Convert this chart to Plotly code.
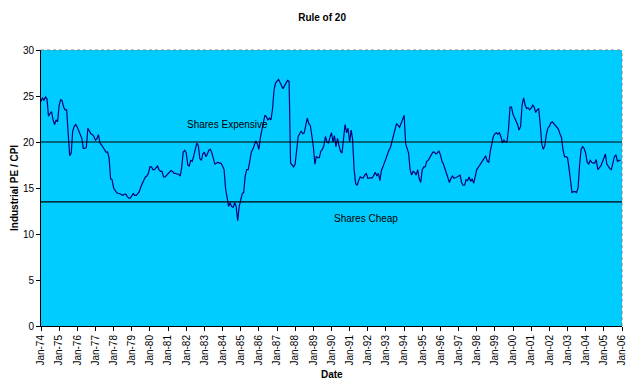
import plotly.graph_objects as go
import pandas as pd

# Monthly Industrial PE / CPI, Jan-1974 .. Dec-2005
y1974 = [24.4, 24.8, 24.5, 24.9, 24.7, 22.8, 23.1, 23.3, 22.4, 21.9, 22.4, 22.2]
y1975 = [24.0, 24.6, 24.5, 23.8, 23.5, 23.5, 21.0, 18.5, 18.8, 21.2, 21.7, 21.9]
y1976 = [21.6, 21.2, 20.8, 20.4, 19.3, 19.3, 19.4, 21.5, 21.2, 20.9, 20.8, 20.6]
y1977 = [20.2, 20.4, 20.8, 19.9, 19.7, 19.4, 19.1, 18.9, 18.9, 18.3, 16.0, 15.9]
y1978 = [15.0, 14.7, 14.5, 14.4, 14.4, 14.3, 14.2, 14.3, 14.35, 14.1, 13.9, 13.9]
y1979 = [14.1, 14.4, 14.2, 14.2, 14.4, 14.6, 15.1, 15.5, 15.9, 16.2, 16.3, 16.6]
y1980 = [17.3, 17.3, 17.0, 17.0, 17.2, 17.4, 17.0, 16.8, 16.8, 16.2, 16.2, 16.4]
y1981 = [16.5, 16.7, 16.9, 16.8, 16.6, 16.6, 16.5, 16.5, 16.3, 17.2, 18.9, 19.1]
y1982 = [18.8, 17.5, 17.4, 18.0, 17.9, 18.5, 19.2, 19.9, 19.6, 18.2, 18.0, 18.7]
y1983 = [18.9, 18.4, 18.7, 19.1, 19.2, 18.8, 18.2, 17.6, 17.7, 17.8, 17.7, 17.7]
y1984 = [17.4, 17.0, 15.0, 13.8, 13.0, 13.4, 13.0, 12.9, 13.4, 13.0, 11.45, 13.0]
y1985 = [13.8, 14.4, 14.5, 16.3, 17.0, 17.0, 17.9, 18.9, 19.2, 19.6, 20.1, 19.8]
y1986 = [19.2, 20.5, 21.4, 22.3, 22.9, 22.75, 22.4, 22.6, 22.4, 23.5, 25.6, 26.4]
y1987 = [26.6, 26.8, 26.5, 26.2, 25.8, 26.1, 26.4, 26.7, 26.6, 17.7, 17.5, 17.3]
y1988 = [17.6, 19.0, 20.6, 20.9, 21.2, 20.9, 21.0, 21.8, 22.6, 22.0, 21.8, 20.7]
y1989 = [19.5, 17.6, 18.4, 18.3, 18.3, 19.0, 19.2, 19.6, 20.6, 20.0, 19.9, 20.5]
y1990 = [21.0, 20.0, 20.7, 19.5, 20.4, 19.6, 19.0, 18.8, 20.3, 21.9, 21.0, 21.5]
y1991 = [20.0, 21.3, 20.3, 17.0, 15.5, 15.3, 15.8, 16.2, 16.1, 16.1, 16.4, 16.6]
y1992 = [16.05, 16.1, 16.1, 16.1, 16.4, 16.7, 16.3, 16.6, 15.8, 16.9, 17.3, 17.8]
y1993 = [18.2, 18.8, 19.1, 19.4, 20.1, 20.9, 21.5, 22.0, 21.8, 21.6, 22.0, 22.5]
y1994 = [22.9, 19.8, 19.2, 18.8, 17.0, 16.4, 16.8, 16.7, 16.4, 17.0, 16.0, 15.6]
y1995 = [17.0, 17.3, 17.3, 17.9, 18.0, 18.3, 18.6, 18.9, 18.9, 18.7, 18.8, 19.05]
y1996 = [18.6, 17.9, 17.6, 17.1, 16.5, 16.25, 15.6, 16.05, 16.3, 16.05, 16.1, 16.2]
y1997 = [16.3, 16.4, 15.6, 15.3, 15.3, 15.9, 15.8, 16.2, 15.7, 16.0, 15.5, 16.2]
y1998 = [17.0, 17.25, 17.5, 17.75, 18.0, 18.2, 18.5, 17.9, 17.8, 19.0, 19.9, 20.6]
y1999 = [20.9, 21.0, 20.85, 21.0, 20.6, 19.9, 20.2, 20.0, 20.0, 21.3, 23.8, 23.8]
y2000 = [23.0, 22.6, 22.4, 21.9, 21.3, 21.7, 24.0, 24.8, 24.0, 23.65, 23.7, 23.5]
y2001 = [23.7, 24.0, 23.8, 23.2, 23.5, 23.6, 21.9, 19.8, 19.2, 19.6, 20.8, 21.5]
y2002 = [21.7, 22.1, 22.2, 22.0, 21.7, 21.5, 21.4, 20.9, 20.5, 19.2, 18.4, 18.4]
y2003 = [18.3, 17.1, 15.5, 14.5, 14.6, 14.6, 14.5, 15.0, 17.5, 19.2, 19.5, 19.3]
y2004 = [18.8, 17.8, 17.6, 18.0, 17.8, 17.7, 17.7, 18.1, 17.0, 17.2, 17.4, 17.8]
y2005 = [18.3, 18.7, 17.6, 17.3, 17.1, 17.0, 17.6, 18.4, 18.6, 17.9, 18.0, 18.0]

years = list(range(1974, 2006))
yearly = [y1974, y1975, y1976, y1977, y1978, y1979, y1980, y1981, y1982, y1983,
          y1984, y1985, y1986, y1987, y1988, y1989, y1990, y1991, y1992, y1993,
          y1994, y1995, y1996, y1997, y1998, y1999, y2000, y2001, y2002, y2003,
          y2004, y2005]

expensive_level = 20
cheap_level = 13.5

dates = []
values = []
for yr, vals in zip(years, yearly):
    for mi, v in enumerate(vals):
        dates.append(pd.Timestamp(year=yr, month=mi + 1, day=1))
        values.append(v)

font_family = "Liberation Sans, Arial, sans-serif"

fig = go.Figure()
fig.add_trace(go.Scatter(x=dates, y=values, mode="lines",
                         line=dict(color="#000080", width=1.2),
                         showlegend=False, hoverinfo="skip"))

x0 = "1974-01-01"
x1 = "2006-01-01"
for lvl in (expensive_level, cheap_level):
    fig.add_shape(type="line", xref="paper", x0=0, x1=1, yref="y", y0=lvl, y1=lvl,
                  line=dict(color="black", width=1.2))

# plot-area border (top/right grey)
fig.add_shape(type="line", xref="paper", yref="paper", x0=0, x1=1, y0=1, y1=1,
              line=dict(color="#808080", width=1, dash="dot"))
fig.add_shape(type="line", xref="paper", yref="paper", x0=1, x1=1, y0=0, y1=1,
              line=dict(color="#808080", width=1, dash="dot"))

fig.add_annotation(x="1984-04-01", y=21.85, text="Shares Expensive", showarrow=False,
                   font=dict(family=font_family, size=10, color="black"))
fig.add_annotation(x="1991-12-01", y=11.7, text="Shares Cheap", showarrow=False,
                   font=dict(family=font_family, size=10, color="black"))

# axis titles
fig.add_annotation(xref="paper", yref="paper", x=0, y=0.5, xshift=-27,
                   xanchor="center", yanchor="middle",
                   text="<b>Industrial PE / CPI</b>", textangle=-90, showarrow=False,
                   font=dict(family=font_family, size=10, color="black"))
fig.add_annotation(xref="paper", yref="paper", x=0.5, y=0, yshift=-48,
                   xanchor="center", yanchor="middle",
                   text="<b>Date</b>", showarrow=False,
                   font=dict(family=font_family, size=10, color="black"))

fig.update_layout(
    width=634, height=387,
    margin=dict(l=41, r=12, t=50, b=61),
    paper_bgcolor="white",
    plot_bgcolor="#00CCFF",
    title=dict(text="<b>Rule of 20</b>", x=0.508, xanchor="center",
               y=(387 - 17) / 387, yanchor="middle", yref="container",
               font=dict(family=font_family, size=10, color="black")),
    font=dict(family=font_family, size=10, color="black"),
    showlegend=False,
)
fig.update_xaxes(type="date", range=[x0, x1], dtick="M12", tick0="1974-01-01",
                 tickformat="%b-%y", tickangle=-90, ticks="outside", ticklen=4,
                 tickcolor="black", showline=True, linecolor="black", linewidth=1,
                 showgrid=False, zeroline=False, automargin=False,
                 tickfont=dict(family=font_family, size=10, color="black"))
fig.update_yaxes(range=[0, 30], dtick=5, ticks="outside", ticklen=4,
                 tickcolor="black", showline=True, linecolor="black", linewidth=1,
                 showgrid=False, zeroline=False, automargin=False,
                 tickfont=dict(family=font_family, size=10, color="black"))

fig.write_html("out.html", config={"displayModeBar": False, "staticPlot": True},
               post_script="document.body.style.margin='0';document.body.style.overflow='hidden';")
